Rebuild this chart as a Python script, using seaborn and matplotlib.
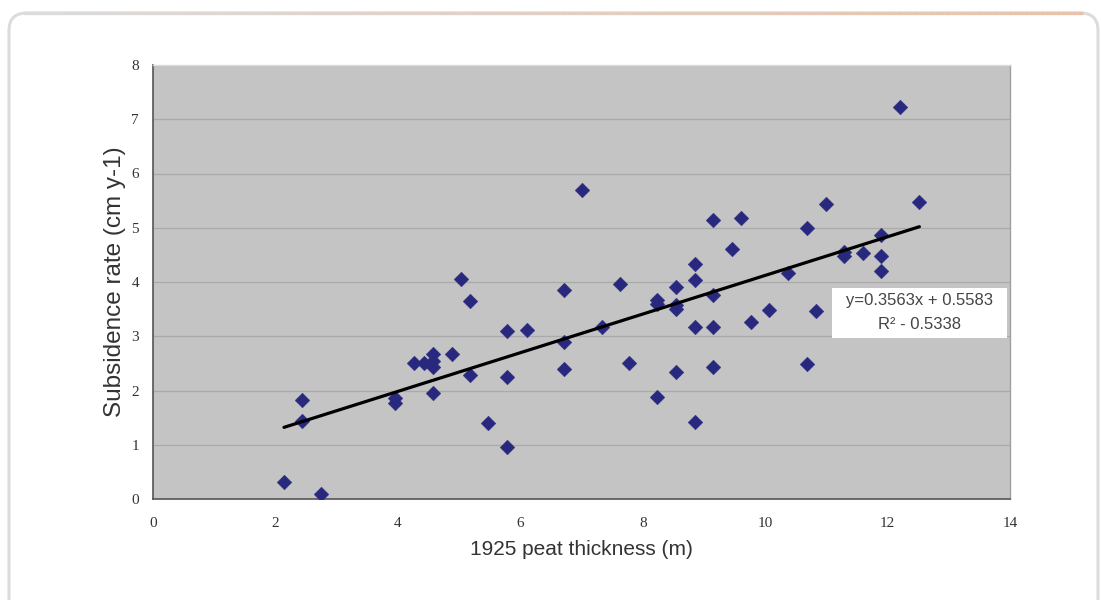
import numpy as np
import pandas as pd
import matplotlib
matplotlib.use("Agg")
import matplotlib.pyplot as plt
import seaborn as sns
from matplotlib.patches import FancyBboxPatch, Rectangle
from matplotlib.collections import LineCollection

# ---- data ----
thickness = [2.14, 2.43, 2.43, 2.75, 3.96, 3.96, 4.26, 4.43, 4.58, 4.58,
             4.58, 4.89, 5.18, 4.58, 5.48, 5.79, 5.79, 5.79, 5.03, 5.18,
             6.11, 6.72, 7.63, 6.72, 7.33, 6.72, 7.77, 7.01, 9.15, 9.61,
             9.46, 8.86, 8.86, 8.55, 8.24, 8.24, 8.55, 8.55, 9.15, 10.38,
             10.07, 9.77, 8.86, 9.15, 8.55, 9.15, 8.24, 8.86, 11.00, 10.69,
             12.52, 11.90, 11.29, 11.29, 11.60, 11.90, 11.90, 10.83, 10.69, 12.21]
subsidence = [0.31, 1.82, 1.44, 0.09, 1.86, 1.77, 2.51, 2.51, 2.67, 2.54,
              2.43, 2.67, 2.29, 1.95, 1.40, 2.25, 0.96, 3.10, 4.05, 3.65,
              3.11, 3.85, 3.96, 2.89, 3.17, 2.40, 2.51, 5.70, 5.14, 5.18,
              4.61, 4.33, 4.04, 3.91, 3.67, 3.59, 3.58, 3.50, 3.76, 4.17,
              3.48, 3.26, 3.17, 3.17, 2.34, 2.43, 1.88, 1.42, 5.44, 5.00,
              5.47, 4.87, 4.55, 4.48, 4.53, 4.48, 4.20, 3.47, 2.49, 7.23]
slope = 0.3563
intercept = 0.5583
r_squared = 0.5338
x_ticks = [0, 2, 4, 6, 8, 10, 12, 14]
y_ticks = [0, 1, 2, 3, 4, 5, 6, 7, 8]

df = pd.DataFrame({"x": thickness, "y": subsidence})
fit_x = np.array([min(thickness), max(thickness)])
fit = pd.DataFrame({"x": fit_x, "y": slope * fit_x + intercept})

# ---- figure ----
sns.set_theme(style="white")
plt.rcParams["font.family"] = ["Liberation Sans", "DejaVu Sans"]

W, H = 1101, 600
fig = plt.figure(figsize=(W / 100, H / 100), dpi=100)
fig.patch.set_facecolor("white")

# card border
x0, x1 = 9 / W, 1098 / W
ytop = 1 - 13 / H
card = FancyBboxPatch((x0, -0.05), x1 - x0, ytop + 0.05, transform=fig.transFigure,
                      boxstyle="round,pad=0,rounding_size=0.016",
                      facecolor="none", edgecolor="#dcdcdc", linewidth=2.2,
                      mutation_aspect=W / H, zorder=-1)
fig.patches.append(card)
# gradient on top edge
xs = np.linspace(x0 + 0.014, x1 - 0.014, 200)
segs = [[(xs[i], ytop), (xs[i + 1], ytop)] for i in range(len(xs) - 1)]
c0 = np.array([0.86, 0.86, 0.86])
c1 = np.array([0.91, 0.76, 0.66])
cols = [tuple(c0 + (c1 - c0) * t) for t in np.linspace(0, 1, len(segs))]
lc = LineCollection(segs, colors=cols, linewidths=2.4, transform=fig.transFigure, zorder=1)
fig.add_artist(lc)

ax = fig.add_axes([153 / W, 101 / H, 857 / W, 434 / H])
ax.set_facecolor("#c4c4c4")

sns.scatterplot(data=df, x="x", y="y", marker="D", s=56, color="#28287e",
                edgecolor="#28287e", linewidth=0.3, ax=ax, zorder=3)
sns.lineplot(data=fit, x="x", y="y", color="black", linewidth=2.3, ax=ax, zorder=4)

ax.set_xlim(0, 14)
ax.set_ylim(0, 8)
ax.set_xticks(x_ticks)
ax.set_yticks(y_ticks)
ax.yaxis.grid(True, color="#aaaaaa", linewidth=0.9)
ax.xaxis.grid(False)
ax.set_axisbelow(True)

for side in ["left", "bottom"]:
    ax.spines[side].set_color("#555555")
    ax.spines[side].set_linewidth(1.2)
ax.spines["right"].set_color("#a0a0a0")
ax.spines["right"].set_linewidth(1.0)
ax.spines["top"].set_color("#dddddd")
ax.spines["top"].set_linewidth(1.0)

ax.tick_params(axis="both", which="major", direction="out", length=4, width=1,
               color="#555555", labelcolor="#333333", labelsize=11)
for lab in ax.get_xticklabels() + ax.get_yticklabels():
    lab.set_fontfamily("Liberation Serif")
ax.tick_params(axis="x", pad=9)
ax.tick_params(axis="y", pad=6)

ax.set_xlabel("1925 peat thickness (m)", fontsize=15, color="#333333", labelpad=7)
ax.set_ylabel("Subsidence rate (cm y-1)", fontsize=17.5, color="#333333", labelpad=4)

# equation box
ax.add_patch(Rectangle((11.10, 2.96), 2.85, 0.93, facecolor="white", edgecolor="none", zorder=5))
ax.text(12.52, 3.65, f"y={slope}x + {intercept}", ha="center", va="center",
        fontsize=12, color="#444444", zorder=6)
ax.text(12.52, 3.22, f"R\u00b2 - {r_squared}", ha="center", va="center",
        fontsize=12, color="#444444", zorder=6)

fig.savefig("out.png", dpi=100, facecolor="white")
